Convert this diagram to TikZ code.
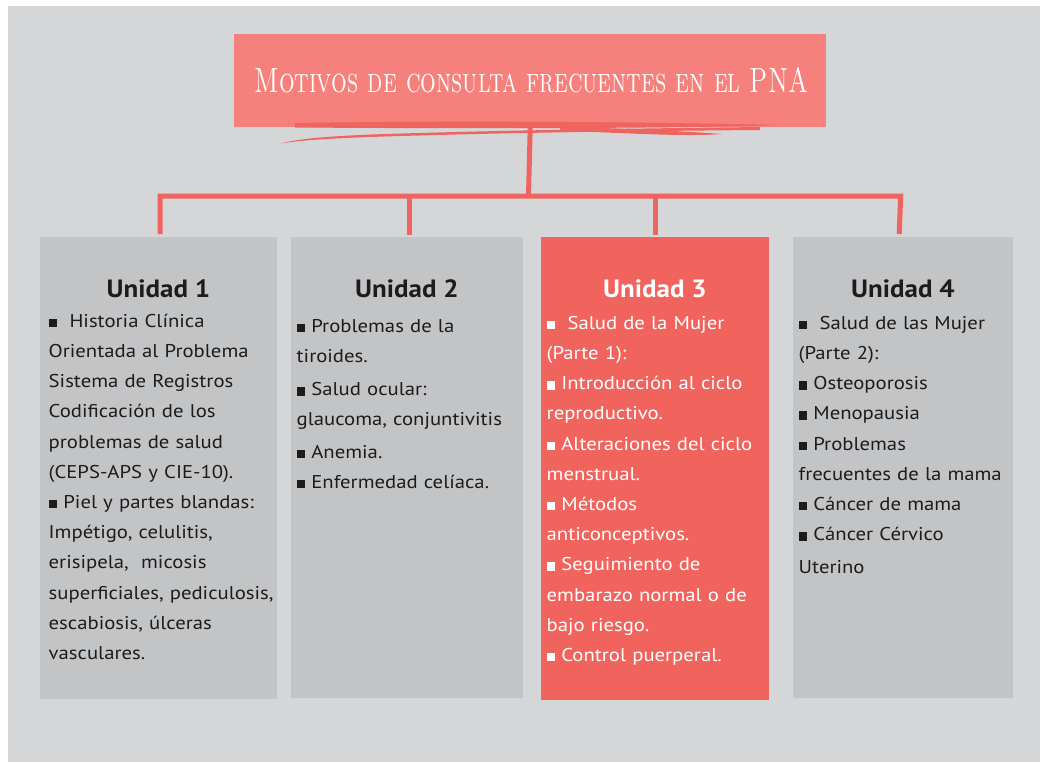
\documentclass[tikz,border=0pt]{standalone}
\usepackage{graphicx}
\usepackage{fontspec}
\newfontfamily\bodyfont[FakeStretch=1.12]{PT Sans}
\newfontfamily\headfont[FakeStretch=1.08]{PT Sans}
\definecolor{bgcol}{HTML}{D5D6D8}
\definecolor{boxgray}{HTML}{C3C4C6}
\definecolor{boxred}{HTML}{F1645E}
\definecolor{titlered}{HTML}{F6807C}
\definecolor{linered}{HTML}{F0645F}
\definecolor{inkdark}{HTML}{1C1C1C}
\newcommand\sqb{\rule{8.5pt}{8.5pt}}
\newcommand\fst{\rule{0pt}{20pt}}
\tikzset{
  unitbox/.style={draw=none, inner sep=0pt, anchor=north west},
  graybox/.style={unitbox, fill=boxgray},
  redbox/.style={unitbox, fill=boxred},
  heading/.style={anchor=base, inner sep=0pt, font=\headfont\bfseries\fontsize{25pt}{28pt}\selectfont},
  bodytext/.style={anchor=north west, inner sep=0pt, text width=228pt, align=left,
    font=\bodyfont\fontsize{18.5pt}{30.2pt}\selectfont},
  conn/.style={draw=linered, line width=5pt, line join=miter},
  brush/.style={fill=linered}
}
\begin{document}
\begin{tikzpicture}[x=1pt,y=-1pt]
\useasboundingbox (0,0) rectangle (1040,762);
\fill[white] (0,0) rectangle (1040,762);
\fill[bgcol] (8,6) rectangle (1040,762);

% title
\node[unitbox, fill=titlered, minimum width=592pt, minimum height=93pt] (t) at (234,34) {};
\node[inner sep=0pt, anchor=base, text=white, font=\fontsize{35pt}{40pt}\selectfont] (tt) at (531.5,93) {\scalebox{0.705}[1]{\textsc{Motivos de consulta frecuentes en el PNA}}};

% brush strokes
\fill[brush] (295,123) .. controls (420,121) and (600,121) .. (779,125)
  .. controls (700,128) and (500,129) .. (295,127.5) -- cycle;
\fill[brush] (281,143.5) .. controls (300,138) and (340,135) .. (420,133)
  .. controls (520,130) and (640,128.5) .. (760,127)
  -- (760,130) .. controls (640,131) and (520,132.5) .. (420,135.5)
  .. controls (340,137.5) and (300,140) .. cycle;
\fill[brush] (560,127) .. controls (620,128) and (680,131) .. (722,134)
  .. controls (690,136.5) and (640,134) .. (560,130.5) -- cycle;

% boxes
\node[graybox, minimum width=237pt, minimum height=462pt] (u1) at (40,237) {};
\node[graybox, minimum width=232pt, minimum height=461pt] (u2) at (291,237) {};
\node[redbox,  minimum width=228pt, minimum height=463pt] (u3) at (541,237) {};
\node[graybox, minimum width=220pt, minimum height=461pt] (u4) at (793,237) {};

% connectors
\coordinate (hub) at (528.5,196);
\draw[conn] (t.south) -- (hub);
\draw[conn] ([xshift=1.5pt,yshift=3pt]u1.north) |- ([xshift=-2.5pt]u4.north |- hub) -- ([xshift=-4pt,yshift=3pt]u4.north);
\draw[conn] ([xshift=2pt,yshift=2pt]u2.north) -- ([xshift=2pt]u2.north |- hub);
\draw[conn] ([xshift=0.5pt,yshift=2pt]u3.north) -- ([xshift=0.5pt]u3.north |- hub);

% headings
\node[heading, text=inkdark] (h1) at (158.5,297) {Unidad 1};
\node[heading, text=inkdark] (h2) at (407,297) {Unidad 2};
\node[heading, text=white]   (h3) at (655,297) {Unidad 3};
\node[heading, text=inkdark] (h4) at (903,297.5) {Unidad 4};

% body texts
\node[bodytext, text=inkdark] (b1) at (48.5,307) {\fst\sqb\ \ Historia Clínica\\
Orientada al Problema\\
Sistema de Registros\\
Codificación de los\\
problemas de salud\\
(CEPS-APS y CIE-10).\\
\sqb\ Piel y partes blandas:\\
Impétigo, celulitis,\\
erisipela,\ \ micosis\\
superficiales, pediculosis,\\
escabiosis, úlceras\\
vasculares.};

\node[bodytext, text=inkdark] (b2) at (296.5,312) {\fst\sqb\ Problemas de la\\
tiroides.\\[3pt]
\sqb\ Salud ocular:\\
glaucoma, conjuntivitis\\[2pt]
\sqb\ Anemia.\\
\sqb\ Enfermedad celíaca.};

\node[bodytext, text=white] (b3) at (546.5,309) {\fst\sqb\ \ Salud de la Mujer\\
(Parte 1):\\
\sqb\ Introducción al ciclo\\
reproductivo.\\
\sqb\ Alteraciones del ciclo\\
menstrual.\\
\sqb\ Métodos\\
anticonceptivos.\\
\sqb\ Seguimiento de\\
embarazo normal o de\\
bajo riesgo.\\
\sqb\ Control puerperal.};

\node[bodytext, text=inkdark] (b4) at (798.5,309) {\fst\sqb\ \ Salud de las Mujer\\
(Parte 2):\\
\sqb\ Osteoporosis\\
\sqb\ Menopausia\\
\sqb\ Problemas\\
frecuentes de la mama\\
\sqb\ Cáncer de mama\\
\sqb\ Cáncer Cérvico\\[3pt]
Uterino};
\end{tikzpicture}
\end{document}
